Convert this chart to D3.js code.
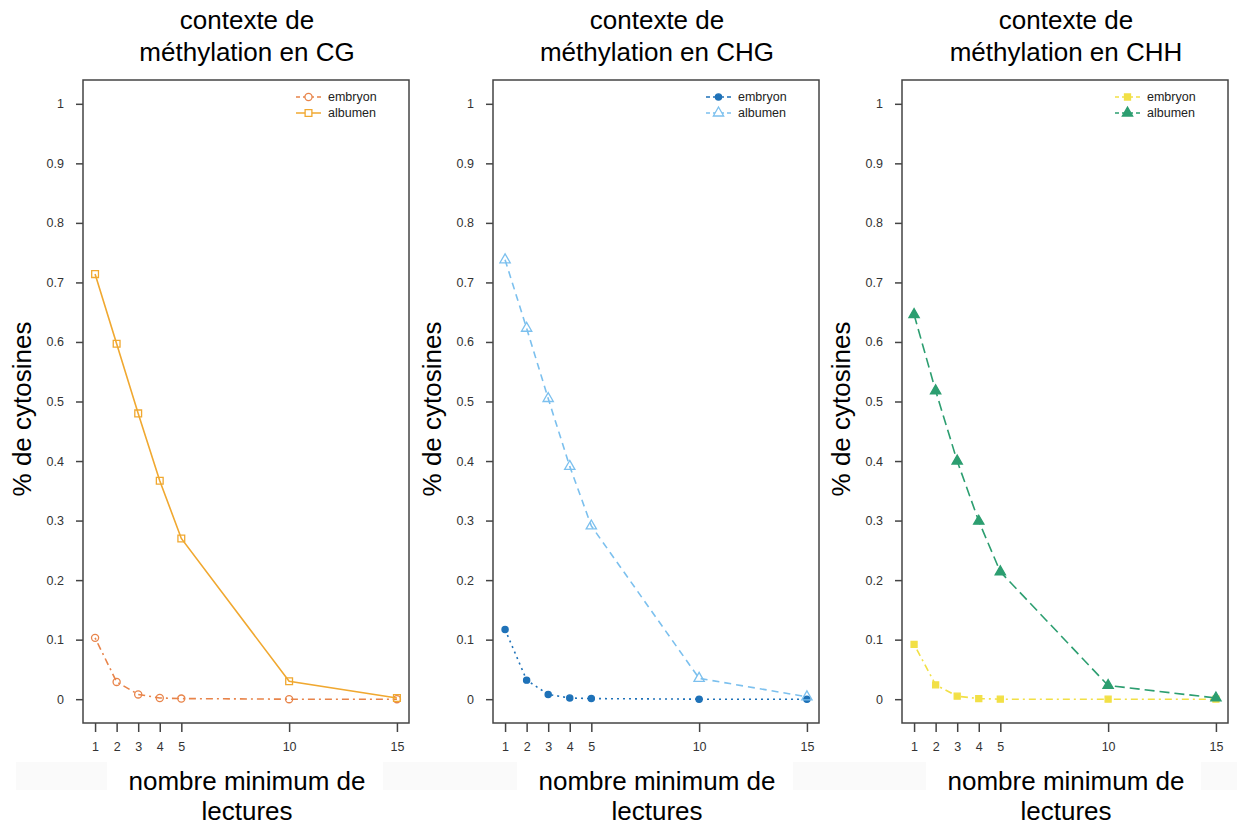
<!DOCTYPE html>
<html>
<head>
<meta charset="utf-8">
<script src="https://cdn.jsdelivr.net/npm/d3@7"></script>
<style>
  body { margin: 0; background: #fff; }
  svg { display: block; font-family: "Liberation Sans", Arial, Helvetica, sans-serif; }
  .axis text { font-size: 12.5px; fill: #333; }
  .axis line { stroke: #444; stroke-width: 1.5; }
  .axis path { display: none; }
</style>
</head>
<body>
<div id="chart"></div>
<script>
// minimum read count (x) and share of cytosines per context
var readCounts = [1, 2, 3, 4, 5, 10, 15];
var yTicks = [0, 0.1, 0.2, 0.3, 0.4, 0.5, 0.6, 0.7, 0.8, 0.9, 1];

var cgEmbryon  = [0.103, 0.029, 0.008, 0.002, 0.001, 0.000, 0.000];
var cgAlbumen  = [0.714, 0.597, 0.480, 0.367, 0.270, 0.030, 0.002];
var chgEmbryon = [0.117, 0.032, 0.008, 0.002, 0.001, 0.000, 0.000];
var chgAlbumen = [0.738, 0.623, 0.505, 0.391, 0.291, 0.035, 0.004];
var chhEmbryon = [0.092, 0.024, 0.005, 0.001, 0.000, 0.000, 0.000];
var chhAlbumen = [0.646, 0.518, 0.400, 0.299, 0.214, 0.023, 0.002];

var panelTitles = ["méthylation en CG", "méthylation en CHG", "méthylation en CHH"];
var seriesNames = ["embryon", "albumen"];

var panels = [
    { title: panelTitles[0], left: 83,
      series: [
        { name: seriesNames[0], values: cgEmbryon, color: "#E8844A", dash: "2,4,7,4", marker: "circle", filled: false },
        { name: seriesNames[1], values: cgAlbumen, color: "#F0A830", dash: null, marker: "square", filled: false }
      ] },
    { title: panelTitles[1], left: 493,
      series: [
        { name: seriesNames[0], values: chgEmbryon, color: "#1F72B8", dash: "2,4", marker: "circle", filled: true },
        { name: seriesNames[1], values: chgAlbumen, color: "#7CC0EE", dash: "7,5", marker: "triangle", filled: false }
      ] },
    { title: panelTitles[2], left: 902,
      series: [
        { name: seriesNames[0], values: chhEmbryon, color: "#F2E046", dash: "2,4,7,4", marker: "square", filled: true },
        { name: seriesNames[1], values: chhAlbumen, color: "#2C9E70", dash: "10,5", marker: "triangle", filled: true }
      ] }
];

var width = 1237, height = 825;
var boxTop = 80, boxBottom = 723, boxWidth = 326;

var svg = d3.select("#chart").append("svg")
    .attr("width", width)
    .attr("height", height);

// faint grey strips behind the x titles
[[16, 91], [383, 134], [793, 133], [1201, 36]].forEach(function(b) {
    svg.append("rect")
        .attr("x", b[0]).attr("y", 762)
        .attr("width", b[1]).attr("height", 28)
        .attr("fill", "#fafafa");
});

function markerPath(type, size) {
    var sym = type === "circle" ? d3.symbolCircle : type === "square" ? d3.symbolSquare : d3.symbolTriangle;
    return d3.symbol().type(sym).size(size)();
}

panels.forEach(function(p) {
    var g = svg.append("g").attr("transform", "translate(" + p.left + ",0)");

    var x = d3.scaleLinear().domain([0.44, 15.56]).range([0, boxWidth]);
    var y = d3.scaleLinear().domain([-0.04, 1.04]).range([boxBottom, boxTop]);

    // box
    g.append("rect")
        .attr("x", 0).attr("y", boxTop)
        .attr("width", boxWidth).attr("height", boxBottom - boxTop)
        .attr("fill", "none").attr("stroke", "#444").attr("stroke-width", 1.5);

    g.append("g")
        .attr("class", "axis")
        .call(d3.axisLeft(y).tickValues(yTicks).tickSize(7).tickPadding(12)
            .tickFormat(function(d) { return +d.toFixed(1); }));

    g.append("g")
        .attr("class", "axis")
        .attr("transform", "translate(0," + boxBottom + ")")
        .call(d3.axisBottom(x).tickValues(readCounts).tickSize(9).tickPadding(10));

    // titles
    var cx = boxWidth / 2 + 1;
    g.append("text").attr("x", cx).attr("y", 29).attr("text-anchor", "middle")
        .attr("font-size", 26).text("contexte de");
    g.append("text").attr("x", cx).attr("y", 61).attr("text-anchor", "middle")
        .attr("font-size", 26).text(p.title);
    g.append("text").attr("x", cx).attr("y", 790).attr("text-anchor", "middle")
        .attr("font-size", 26).text("nombre minimum de");
    g.append("text").attr("x", cx).attr("y", 820).attr("text-anchor", "middle")
        .attr("font-size", 26).text("lectures");
    g.append("text")
        .attr("transform", "translate(-52,409) rotate(-90)")
        .attr("text-anchor", "middle")
        .attr("font-size", 26).text("% de cytosines");

    var line = d3.line()
        .x(function(d, i) { return x(readCounts[i]); })
        .y(function(d) { return y(d); });

    p.series.forEach(function(s, k) {
        g.append("path")
            .datum(s.values)
            .attr("d", line)
            .attr("fill", "none")
            .attr("stroke", s.color)
            .attr("stroke-width", 1.6)
            .attr("stroke-dasharray", s.dash);

        var size = s.marker === "triangle" ? 46 : s.marker === "square" ? (s.filled ? 36 : 46) : (s.filled ? 30 : 40);
        g.selectAll(null)
            .data(s.values)
            .enter().append("path")
            .attr("transform", function(d, i) { return "translate(" + x(readCounts[i]) + "," + y(d) + ")"; })
            .attr("d", markerPath(s.marker, size))
            .attr("fill", s.filled ? s.color : "#fff")
            .attr("fill-opacity", s.filled ? 1 : 0)
            .attr("stroke", s.color)
            .attr("stroke-width", 1.3);

        // legend
        var ly = 97 + k * 16;
        var lx0 = boxWidth - 113, lx1 = boxWidth - 88;
        g.append("line")
            .attr("x1", lx0).attr("x2", lx1).attr("y1", ly).attr("y2", ly)
            .attr("stroke", s.color).attr("stroke-width", 1.5)
            .attr("stroke-dasharray", s.dash ? "4,3" : null);
        g.append("path")
            .attr("transform", "translate(" + ((lx0 + lx1) / 2) + "," + ly + ")")
            .attr("d", markerPath(s.marker, size))
            .attr("fill", s.filled ? s.color : "#fff")
            .attr("stroke", s.color).attr("stroke-width", 1.3);
        g.append("text")
            .attr("x", boxWidth - 81).attr("y", ly)
            .attr("dy", "0.35em")
            .attr("font-size", 12.5).attr("fill", "#222")
            .text(s.name);
    });
});
</script>
</body>
</html>
